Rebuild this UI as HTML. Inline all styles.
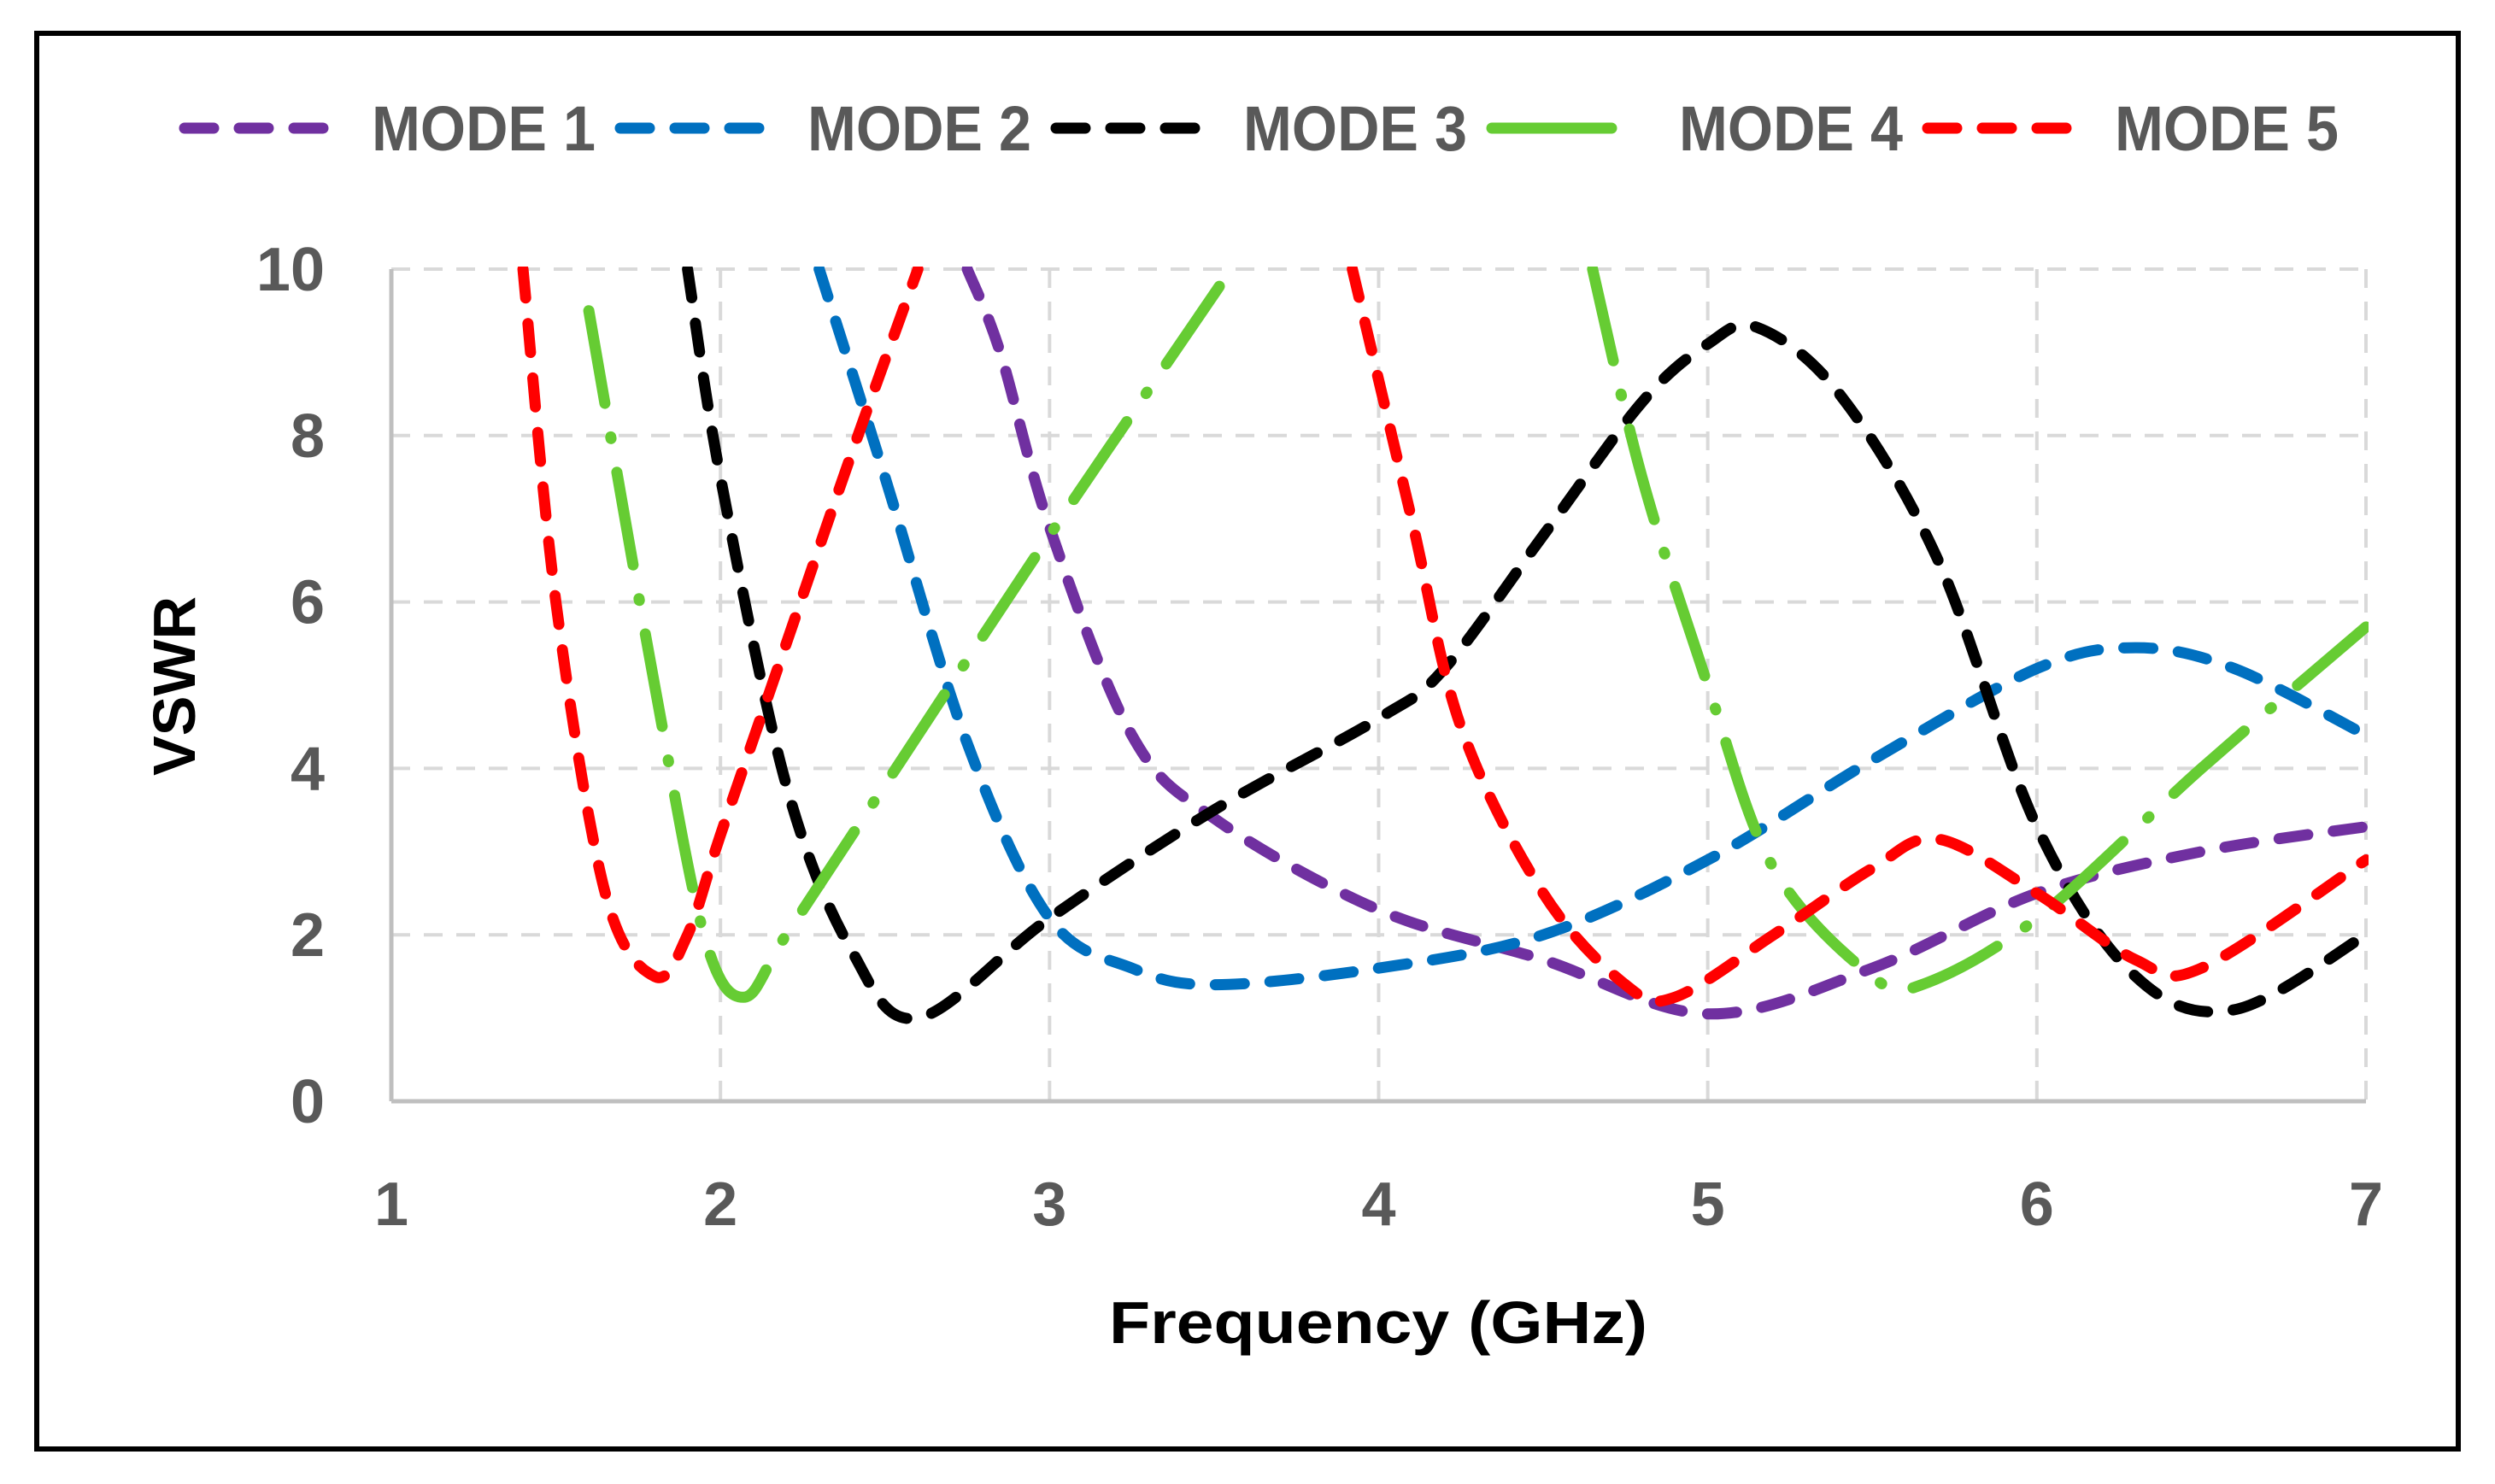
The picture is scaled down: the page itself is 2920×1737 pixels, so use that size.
<!DOCTYPE html>
<html><head><meta charset="utf-8"><style>
html,body{margin:0;padding:0;background:#fff;}
svg{display:block;}
text{font-family:"Liberation Sans",sans-serif;}
</style></head><body>
<svg id="chart" width="2920" height="1737" viewBox="0 0 2920 1737" xmlns="http://www.w3.org/2000/svg">
<rect x="43" y="39" width="2834" height="1657" fill="#fff" stroke="#000" stroke-width="6"/>
<g id="grid"></g>
<g id="axes"></g>
<defs><clipPath id="plotclip"><rect x="458" y="312" width="2314" height="980"/></clipPath></defs>
<g id="series" clip-path="url(#plotclip)"></g>
<g id="legend"></g>
<text x="1613" y="1572" text-anchor="middle" font-size="70" font-weight="bold" fill="#000" textLength="630" lengthAdjust="spacingAndGlyphs">Frequency (GHz)</text>
<text transform="translate(228,803) rotate(-90)" text-anchor="middle" font-size="70" font-weight="bold" fill="#000">VSWR</text>
</svg>
<script>
const xTicks = [1,2,3,4,5,6,7];
const yTicks = [0,2,4,6,8,10];
const seriesNames = ["MODE 1","MODE 2","MODE 3","MODE 4","MODE 5"];
const mode1X = [2.75,2.85,3,3.25,3.5,4,4.5,5,5.5,6,6.5,7];
const mode1Y = [10,9,6.9,4.4,3.4,2.3,1.7,1.05,1.6,2.5,3.0,3.3];
const mode2X = [2.3,2.5,2.75,3,3.25,3.5,4,4.5,5,5.5,6,6.3,6.6,7];
const mode2Y = [10,7.5,4.3,2.2,1.6,1.4,1.6,2.0,2.9,4.1,5.2,5.45,5.2,4.4];
const mode3X = [1.9,2,2.2,2.4,2.6,3,3.5,4,4.2,4.5,4.8,5,5.15,5.4,5.7,6,6.3,6.6,7];
const mode3Y = [10,7.5,3.8,1.8,1.0,2.2,3.5,4.6,5.2,6.8,8.4,9.1,9.3,8.5,6.5,3.3,1.5,1.1,2.0];
const mode4aX = [1.6,1.8,1.95,2.07,2.2,2.5,3,3.5,3.6];
const mode4aY = [9.5,5,2,1.25,2,3.8,6.8,9.7,10.3];
const mode4bX = [4.65,4.8,5,5.2,5.5,5.65,6,6.5,7];
const mode4bY = [10,7.5,5,2.8,1.5,1.4,2.2,4.0,5.7];
const mode5aX = [1.4,1.5,1.65,1.8,1.9,2,2.2,2.4,2.6];
const mode5aY = [10,6,2.5,1.5,2,3.2,5.5,7.8,10];
const mode5bX = [3.92,4.1,4.25,4.5,4.75,4.9,5.2,5.5,5.7,6,6.3,6.5,7];
const mode5bY = [10,7,4.5,2.5,1.4,1.25,2,2.8,3.15,2.5,1.7,1.6,2.9];

const NS="http://www.w3.org/2000/svg";
const L=458,R=2769,T=315,B=1289;
const sx=v=>L+(v-1)/6*(R-L);
const sy=v=>B-v/10*(B-T);
function mk(tag,attrs,parent){const e=document.createElementNS(NS,tag);for(const k in attrs)e.setAttribute(k,attrs[k]);parent.appendChild(e);return e;}
const grid=document.getElementById('grid'),axes=document.getElementById('axes'),ser=document.getElementById('series'),leg=document.getElementById('legend');
yTicks.forEach(t=>{
  if(t>0){const g=mk('line',{x1:L,x2:R,y1:sy(t),y2:sy(t),stroke:'#d9d9d9','stroke-width':4,'stroke-dasharray':'22 16'},grid);
  
  }
  const tx=mk('text',{x:380,y:sy(t)+25,'text-anchor':'end','font-size':72,'font-weight':'bold',fill:'#595959'},axes);
  tx.textContent=t;
  
  
});
xTicks.forEach(t=>{
  if(t>1){const g=mk('line',{x1:sx(t),x2:sx(t),y1:T,y2:B,stroke:'#d9d9d9','stroke-width':4,'stroke-dasharray':'22 16'},grid);
  
  }
  const tx=mk('text',{x:sx(t),y:1434,'text-anchor':'middle','font-size':72,'font-weight':'bold',fill:'#595959'},axes);
  tx.textContent=t;
  
  
});
const ya=mk('line',{x1:L,x2:L,y1:T,y2:B,stroke:'#bfbfbf','stroke-width':5},axes);


const xa=mk('line',{x1:L,x2:R,y1:B,y2:B,stroke:'#bfbfbf','stroke-width':5},axes);



function pathD(xs,ys){
  const p=xs.map((x,i)=>[sx(x),sy(ys[i])]);
  let d='M'+p[0][0]+','+p[0][1];
  for(let i=0;i<p.length-1;i++){
    const p0=p[i-1]||p[i],p1=p[i],p2=p[i+1],p3=p[i+2]||p2;
    const c1=[p1[0]+(p2[0]-p0[0])/6,p1[1]+(p2[1]-p0[1])/6];
    const c2=[p2[0]-(p3[0]-p1[0])/6,p2[1]-(p3[1]-p1[1])/6];
    d+=' C'+c1+' '+c2+' '+p2;
  }
  return d;
}
const colors=['#7030a0','#0070c0','#000000','#66cc33','#ff0000'];
const dashes=['34 30','34 30','34 30','110 40 2 40','34 30'];
const segs=[[mode1X,mode1Y,0],[mode2X,mode2Y,1],[mode3X,mode3Y,2],[mode4aX,mode4aY,3],[mode4bX,mode4bY,3],[mode5aX,mode5aY,4],[mode5bX,mode5bY,4]];
segs.forEach(s=>{
  const i=s[2];
  const p=mk('path',{d:pathD(s[0],s[1]),fill:'none',stroke:colors[i],'stroke-width':13,'stroke-linecap':'round','stroke-dasharray':dashes[i]},ser);
  
  
});
const legX=[210,720,1230,1740,2250];
seriesNames.forEach((n,i)=>{
  const x=legX[i];
  const ln=mk('line',{x1:x+6,x2:x+186,y1:150,y2:150,stroke:colors[i],'stroke-width':13,'stroke-linecap':'round','stroke-dasharray':i==3?'140 40 2 40':'34 30'},leg);
  
  
  const tx=mk('text',{x:x+225,y:176,'font-size':74,'font-weight':'bold',fill:'#595959',textLength:262,lengthAdjust:'spacingAndGlyphs'},leg);
  tx.textContent=n;
  
  
});
</script>
</body></html>
